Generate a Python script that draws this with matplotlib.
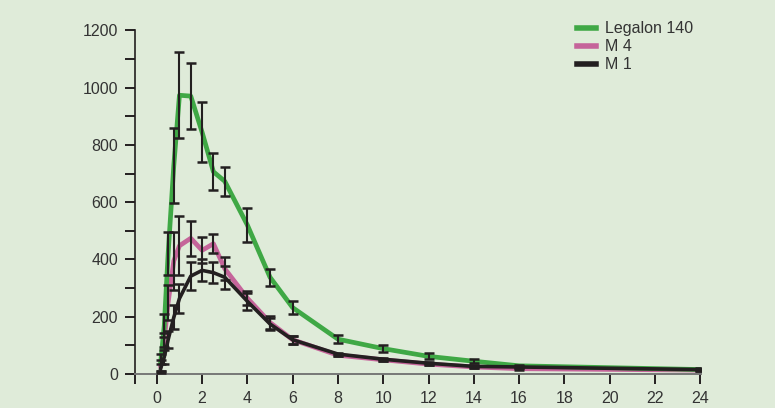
import matplotlib
matplotlib.use("Agg")
import matplotlib.pyplot as plt

plt.rcParams['font.family'] = ['Liberation Sans', 'DejaVu Sans']

# time points (h)
hours = [0.17, 0.33, 0.5, 0.75, 1, 1.5, 2, 2.5, 3, 4, 5, 6, 8, 10, 12, 14, 16, 24]

legalon = [40, 170, 420, 728, 973, 970, 844, 706, 673, 520, 338, 232, 122, 89, 62, 45, 29, 16]
legalon_err = [30, 40, 75, 131, 150, 114, 105, 65, 50, 60, 29, 22, 15, 13, 10, 7, 3, 3]

m4 = [30, 120, 250, 395, 448, 474, 432, 455, 368, 265, 180, 120, 66, 50, 35, 25, 19, 14]
m4_err = [20, 25, 60, 100, 103, 62, 45, 33, 40, 25, 22, 14, 4, 4, 4, 4, 3, 3]

m1 = [20, 60, 120, 198, 264, 342, 362, 354, 338, 254, 175, 120, 70, 52, 38, 27, 25, 16]
m1_err = [15, 25, 30, 42, 50, 50, 38, 37, 40, 30, 20, 14, 5, 5, 5, 5, 5, 5]

bg = "#dfebd9"
fig = plt.figure(figsize=(7.75, 4.08), dpi=100, facecolor=bg)
ax = fig.add_axes([0.174, 0.083, 0.731, 0.843], facecolor=bg)

ax.plot(hours, legalon, color="#3fa845", lw=3.4, solid_joinstyle="round", label="Legalon 140", zorder=3)
ax.plot(hours, m4, color="#c5649a", lw=3.4, solid_joinstyle="round", label="M 4", zorder=2)
ax.plot(hours, m1, color="#231f20", lw=2.6, solid_joinstyle="round", label="M 1", zorder=4)

for vals, errs in [(legalon, legalon_err), (m4, m4_err), (m1, m1_err)]:
    ax.errorbar(hours, vals, yerr=errs, fmt="none", ecolor="#231f20",
                elinewidth=1.5, capsize=3.5, capthick=1.8, zorder=5)

ax.set_xlim(-0.97, 24.05)
ax.set_ylim(0, 1200)
xt = [-0.97] + list(range(0, 25, 2))
ax.set_xticks(xt)
ax.set_xticklabels([""] + [str(v) for v in range(0, 25, 2)])
ax.set_yticks(range(0, 1201, 100))
ax.set_yticklabels([str(v) if v % 200 == 0 else "" for v in range(0, 1201, 100)])

ax.tick_params(axis="both", direction="out", length=7, width=1.4, color="#231f20",
               labelsize=11.5, labelcolor="#333333", pad=5)
for s in ["top", "right"]:
    ax.spines[s].set_visible(False)
ax.spines["left"].set_color("#231f20")
ax.spines["left"].set_linewidth(1.2)
ax.spines["bottom"].set_color("#777777")
ax.spines["bottom"].set_linewidth(1.4)

leg = ax.legend(loc="upper right", bbox_to_anchor=(0.997, 1.045), frameon=False,
                fontsize=11.5, handlelength=1.2, handletextpad=0.55,
                labelspacing=0.2, borderaxespad=0)
for h in leg.get_lines():
    h.set_linewidth(4)
for t in leg.get_texts():
    t.set_color("#333333")

fig.savefig("out.png", dpi=100, facecolor=bg)
